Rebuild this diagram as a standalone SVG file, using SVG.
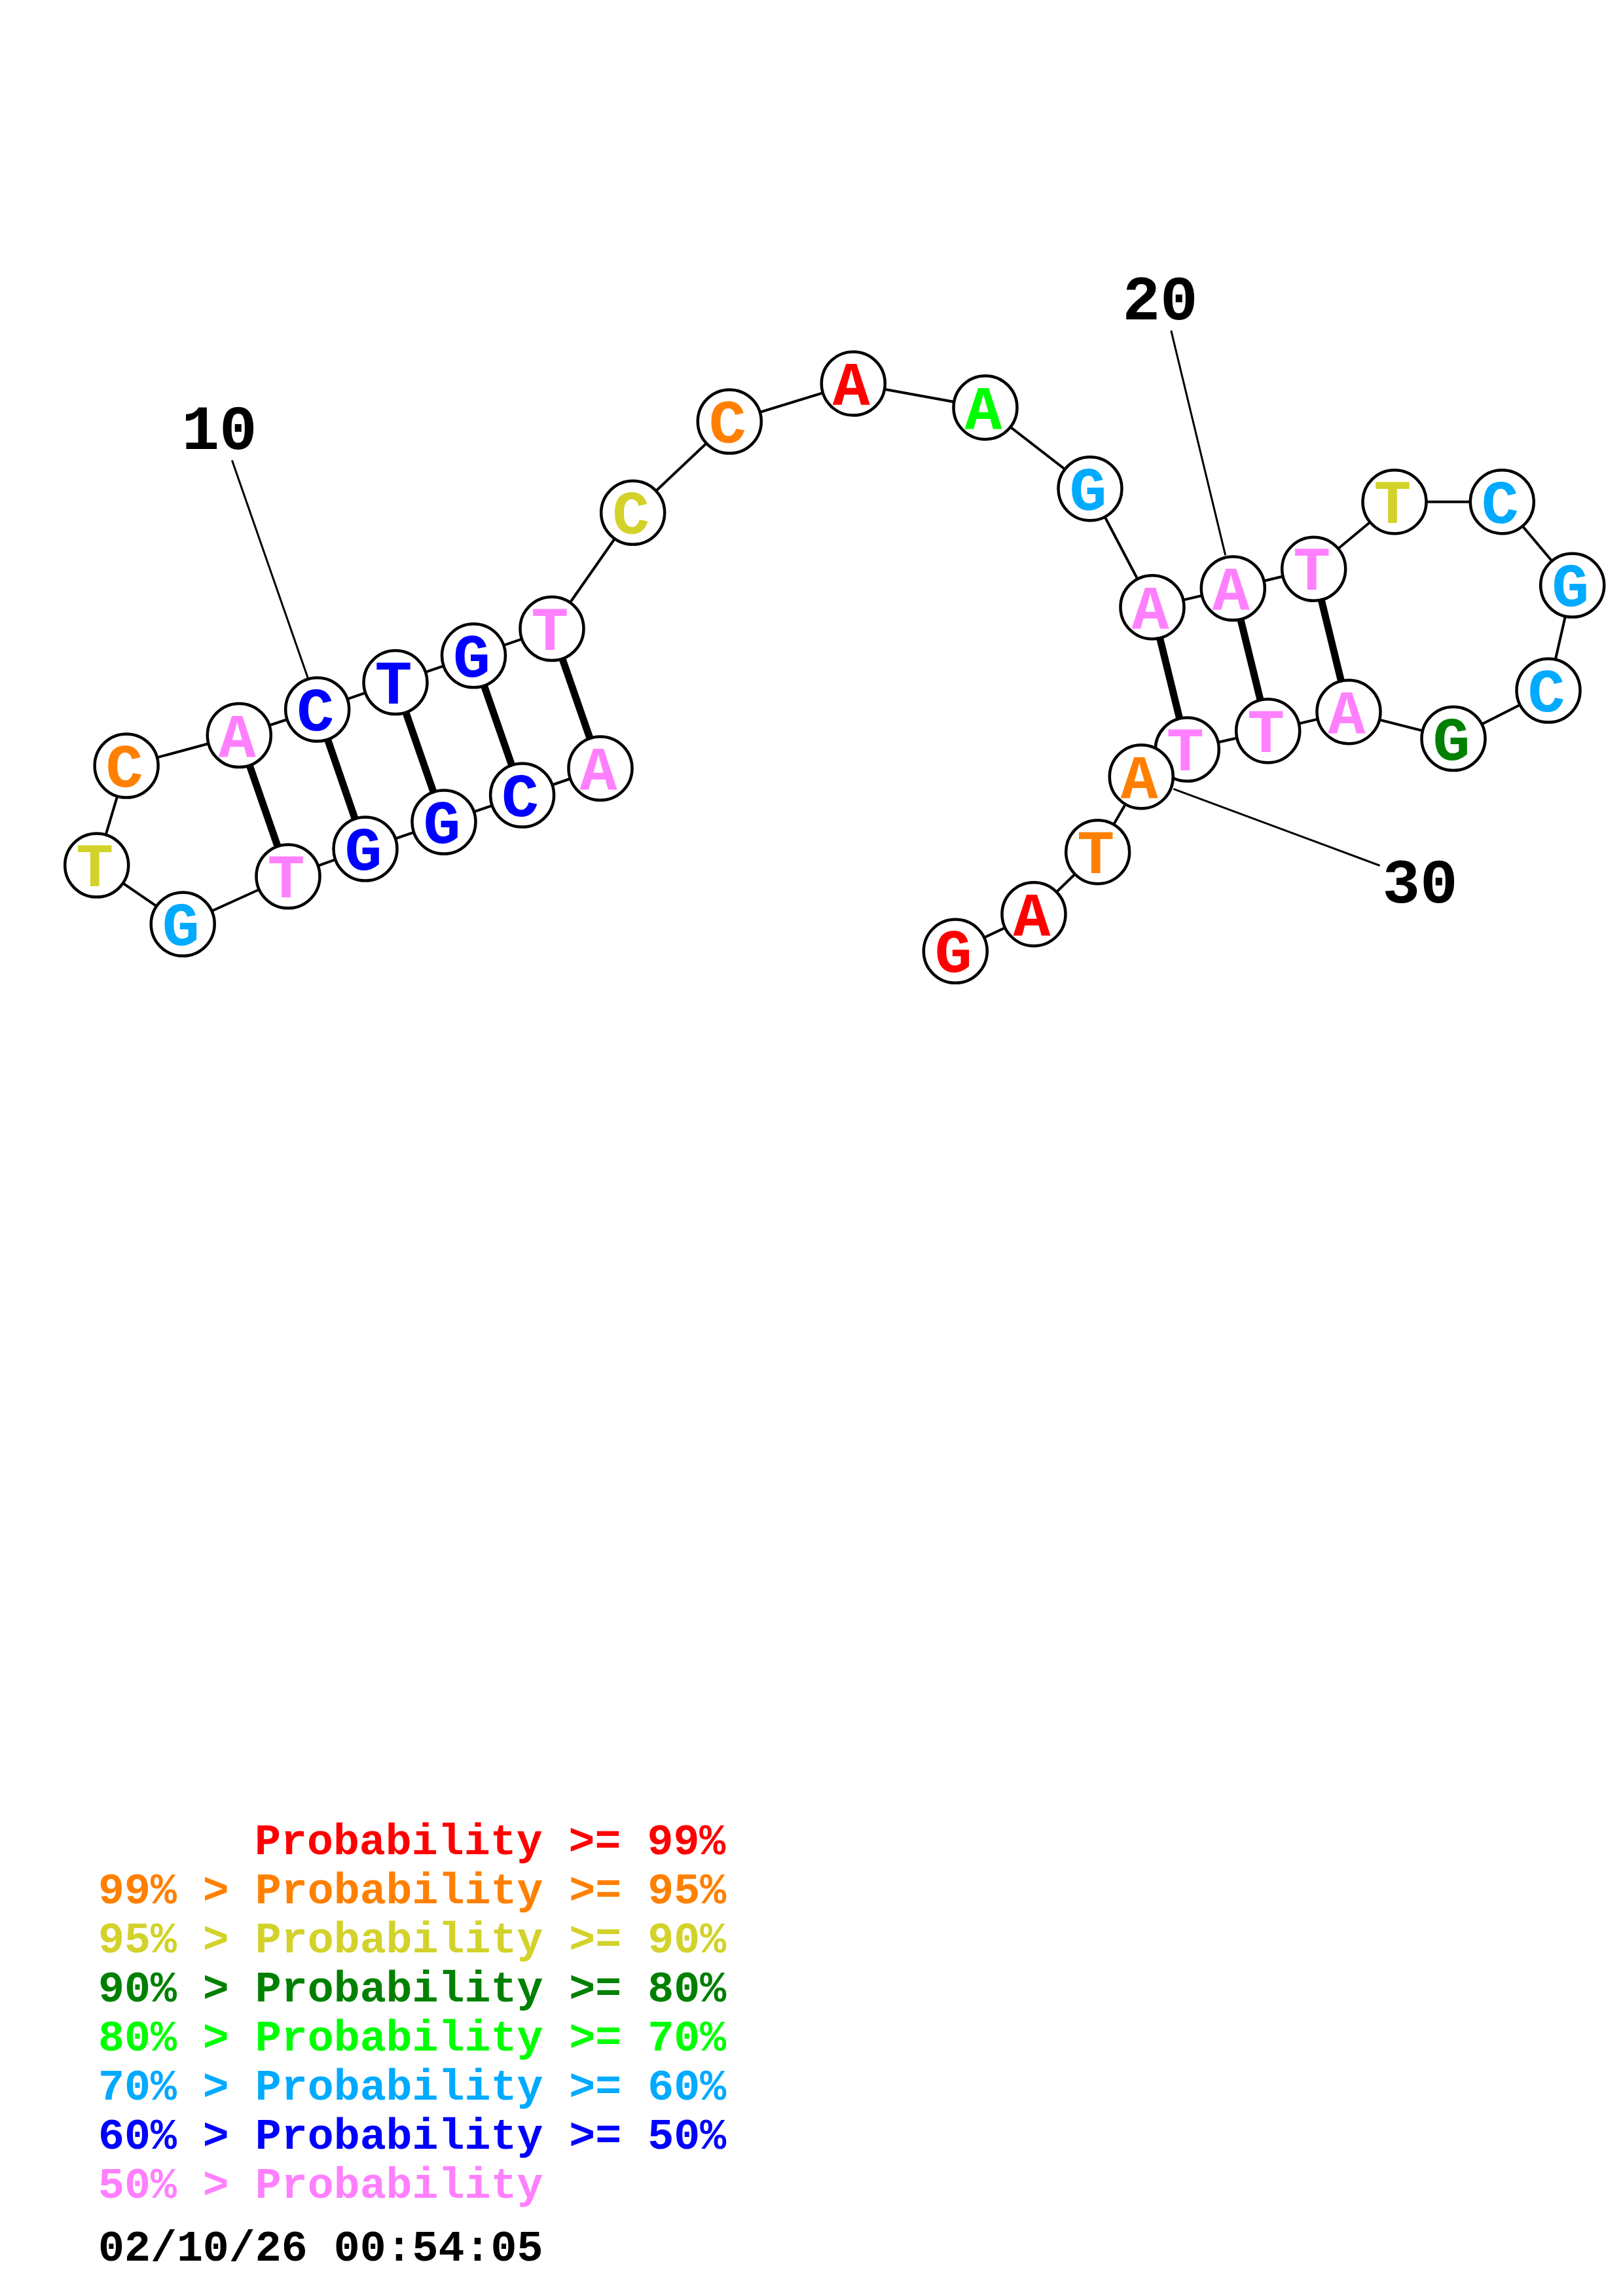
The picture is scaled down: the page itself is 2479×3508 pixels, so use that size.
<svg xmlns="http://www.w3.org/2000/svg" width="2479" height="3508" viewBox="0 0 2479 3508">
<style>
.bb{stroke:#000;stroke-width:4;fill:none}
.bp{stroke:#000;stroke-width:11}
.ll{stroke:#000;stroke-width:3}
.nc{fill:#fff;stroke:#000;stroke-width:4.5}
.nt{font-family:"Liberation Mono","Courier New",monospace;font-weight:bold;font-size:95px;text-anchor:middle}
.lb{font-family:"Liberation Mono","Courier New",monospace;font-weight:bold;font-size:96px;text-anchor:middle;fill:#000}
.lg{font-family:"Liberation Mono","Courier New",monospace;font-weight:bold;font-size:66.6px}
.r{fill:#FF0000}.o{fill:#FF8000}.y{fill:#D2D22A}.dg{fill:#008000}.g{fill:#00FF00}.lbl{fill:#00AAFF}.b{fill:#0000FF}.p{fill:#FF80FF}.k{fill:#000}
</style>
<rect x="0" y="0" width="2479" height="3508" fill="#fff"/>
<g id="connectors">
<polyline class="bb" points="917,1174 797.6,1215 678,1256 558,1297 440,1339 279.2,1412 147.7,1322 193.1,1170 365.3,1123.5 484.7,1084 604,1042.6 723.5,1001.8 843,960.5 966.7,783.3 1114.3,644 1303.3,586 1505,622.7 1665,746.7 1760,927.7 1883.3,899 2006.7,869.3 2130,766.7 2294.3,766.7 2401.7,894.3 2365,1055 2220,1128.5 2060,1087.7 1936.7,1116.7 1813.3,1145 1743.3,1186.7 1676.7,1301.7 1579,1396.7 1459.3,1453.3"/>
<line class="bp" x1="917" y1="1174" x2="843" y2="960.5"/>
<line class="bp" x1="797.6" y1="1215" x2="723.5" y2="1001.8"/>
<line class="bp" x1="678" y1="1256" x2="604" y2="1042.6"/>
<line class="bp" x1="558" y1="1297" x2="484.7" y2="1084"/>
<line class="bp" x1="440" y1="1339" x2="365.3" y2="1123.5"/>
<line class="bp" x1="1760" y1="927.7" x2="1813.3" y2="1145"/>
<line class="bp" x1="1883.3" y1="899" x2="1936.7" y2="1116.7"/>
<line class="bp" x1="2006.7" y1="869.3" x2="2060" y2="1087.7"/>
<line class="ll" x1="354.4" y1="703.3" x2="470.4" y2="1036.3"/>
<line class="ll" x1="1788.8" y1="505.2" x2="1871.7" y2="848.3"/>
<line class="ll" x1="1792.3" y1="1205.3" x2="2107.5" y2="1322.5"/>
</g>
<g id="labels">
<text class="lb" x="335" y="686">10</text>
<text class="lb" x="1772" y="488">20</text>
<text class="lb" x="2169" y="1379">30</text>
</g>
<g id="n1"><circle class="nc" cx="917" cy="1174" r="48.5"/><text class="nt p" x="914" y="1206">A</text></g>
<g id="n2"><circle class="nc" cx="797.6" cy="1215" r="48.5"/><text class="nt b" x="794.6" y="1247">C</text></g>
<g id="n3"><circle class="nc" cx="678" cy="1256" r="48.5"/><text class="nt b" x="675" y="1288">G</text></g>
<g id="n4"><circle class="nc" cx="558" cy="1297" r="48.5"/><text class="nt b" x="555" y="1329">G</text></g>
<g id="n5"><circle class="nc" cx="440" cy="1339" r="48.5"/><text class="nt p" x="437" y="1371">T</text></g>
<g id="n6"><circle class="nc" cx="279.2" cy="1412" r="48.5"/><text class="nt lbl" x="276.2" y="1444">G</text></g>
<g id="n7"><circle class="nc" cx="147.7" cy="1322" r="48.5"/><text class="nt y" x="144.7" y="1354">T</text></g>
<g id="n8"><circle class="nc" cx="193.1" cy="1170" r="48.5"/><text class="nt o" x="190.1" y="1202">C</text></g>
<g id="n9"><circle class="nc" cx="365.3" cy="1123.5" r="48.5"/><text class="nt p" x="362.3" y="1155.5">A</text></g>
<g id="n10"><circle class="nc" cx="484.7" cy="1084" r="48.5"/><text class="nt b" x="481.7" y="1116">C</text></g>
<g id="n11"><circle class="nc" cx="604" cy="1042.6" r="48.5"/><text class="nt b" x="601" y="1074.6">T</text></g>
<g id="n12"><circle class="nc" cx="723.5" cy="1001.8" r="48.5"/><text class="nt b" x="720.5" y="1033.8">G</text></g>
<g id="n13"><circle class="nc" cx="843" cy="960.5" r="48.5"/><text class="nt p" x="840" y="992.5">T</text></g>
<g id="n14"><circle class="nc" cx="966.7" cy="783.3" r="48.5"/><text class="nt y" x="963.7" y="815.3">C</text></g>
<g id="n15"><circle class="nc" cx="1114.3" cy="644" r="48.5"/><text class="nt o" x="1111.3" y="676">C</text></g>
<g id="n16"><circle class="nc" cx="1303.3" cy="586" r="48.5"/><text class="nt r" x="1300.3" y="618">A</text></g>
<g id="n17"><circle class="nc" cx="1505" cy="622.7" r="48.5"/><text class="nt g" x="1502" y="654.7">A</text></g>
<g id="n18"><circle class="nc" cx="1665" cy="746.7" r="48.5"/><text class="nt lbl" x="1662" y="778.7">G</text></g>
<g id="n19"><circle class="nc" cx="1760" cy="927.7" r="48.5"/><text class="nt p" x="1757" y="959.7">A</text></g>
<g id="n20"><circle class="nc" cx="1883.3" cy="899" r="48.5"/><text class="nt p" x="1880.3" y="931">A</text></g>
<g id="n21"><circle class="nc" cx="2006.7" cy="869.3" r="48.5"/><text class="nt p" x="2003.7" y="901.3">T</text></g>
<g id="n22"><circle class="nc" cx="2130" cy="766.7" r="48.5"/><text class="nt y" x="2127" y="798.7">T</text></g>
<g id="n23"><circle class="nc" cx="2294.3" cy="766.7" r="48.5"/><text class="nt lbl" x="2291.3" y="798.7">C</text></g>
<g id="n24"><circle class="nc" cx="2401.7" cy="894.3" r="48.5"/><text class="nt lbl" x="2398.7" y="926.3">G</text></g>
<g id="n25"><circle class="nc" cx="2365" cy="1055" r="48.5"/><text class="nt lbl" x="2362" y="1087">C</text></g>
<g id="n26"><circle class="nc" cx="2220" cy="1128.5" r="48.5"/><text class="nt dg" x="2217" y="1160.5">G</text></g>
<g id="n27"><circle class="nc" cx="2060" cy="1087.7" r="48.5"/><text class="nt p" x="2057" y="1119.7">A</text></g>
<g id="n28"><circle class="nc" cx="1936.7" cy="1116.7" r="48.5"/><text class="nt p" x="1933.7" y="1148.7">T</text></g>
<g id="n29"><circle class="nc" cx="1813.3" cy="1145" r="48.5"/><text class="nt p" x="1810.3" y="1177">T</text></g>
<g id="n30"><circle class="nc" cx="1743.3" cy="1186.7" r="48.5"/><text class="nt o" x="1740.3" y="1218.7">A</text></g>
<g id="n31"><circle class="nc" cx="1676.7" cy="1301.7" r="48.5"/><text class="nt o" x="1673.7" y="1333.7">T</text></g>
<g id="n32"><circle class="nc" cx="1579" cy="1396.7" r="48.5"/><text class="nt r" x="1576" y="1428.7">A</text></g>
<g id="n33"><circle class="nc" cx="1459.3" cy="1453.3" r="48.5"/><text class="nt r" x="1456.3" y="1485.3">G</text></g>
<g id="legend">
<text class="lg r" x="389" y="2833">Probability &gt;= 99%</text>
<text class="lg o" x="150" y="2908">99% &gt; Probability &gt;= 95%</text>
<text class="lg y" x="150" y="2983">95% &gt; Probability &gt;= 90%</text>
<text class="lg dg" x="150" y="3058">90% &gt; Probability &gt;= 80%</text>
<text class="lg g" x="150" y="3133">80% &gt; Probability &gt;= 70%</text>
<text class="lg lbl" x="150" y="3208">70% &gt; Probability &gt;= 60%</text>
<text class="lg b" x="150" y="3283">60% &gt; Probability &gt;= 50%</text>
<text class="lg p" x="150" y="3358">50% &gt; Probability</text>
<text class="lg k" x="150" y="3454">02/10/26 00:54:05</text>
</g>
</svg>
